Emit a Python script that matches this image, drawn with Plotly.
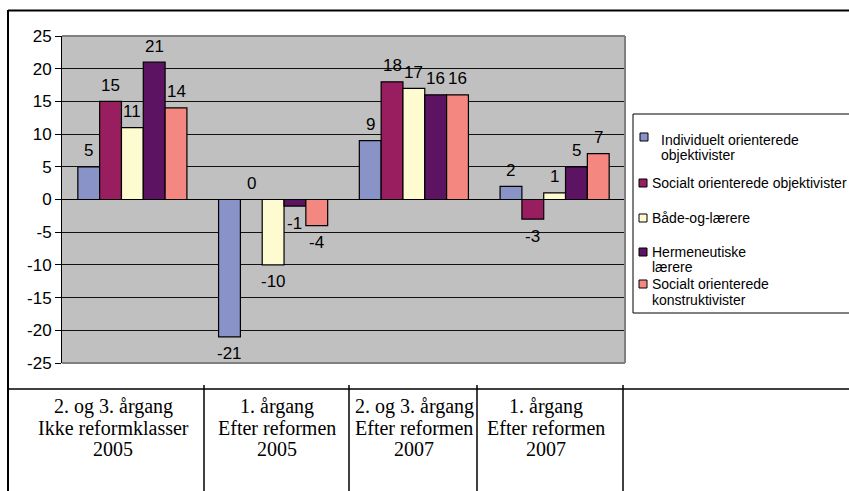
import plotly.graph_objects as go

# Survey groups (columns of the table under the chart)
categories = [
    "2. og 3. årgang<br>Ikke reformklasser<br>2005",
    "1. årgang<br>Efter reformen<br>2005",
    "2. og 3. årgang<br>Efter reformen<br>2007",
    "1. årgang<br>Efter reformen<br>2007",
]

# Teacher types
series_names = [
    "Individuelt orienterede objektivister",
    "Socialt orienterede objektivister",
    "Både-og-lærere",
    "Hermeneutiske lærere",
    "Socialt orienterede konstruktivister",
]
legend_lines = [
    ["Individuelt orienterede", "objektivister"],
    ["Socialt orienterede objektivister"],
    ["Både-og-lærere"],
    ["Hermeneutiske", "lærere"],
    ["Socialt orienterede", "konstruktivister"],
]

individuelt_obj = [5, -21, 9, 2]
socialt_obj = [15, 0, 18, -3]
baade_og = [11, -10, 17, 1]
hermeneutiske = [21, -1, 16, 5]
socialt_konstr = [14, -4, 16, 7]
series_values = [individuelt_obj, socialt_obj, baade_og, hermeneutiske, socialt_konstr]

colors = ["#8993C7", "#991E5F", "#FFFBD0", "#5C1462", "#F4877F"]

tick_vals = [-25, -20, -15, -10, -5, 0, 5, 10, 15, 20, 25]
tick_text = [str(v) for v in tick_vals]  # plain hyphen for negatives

W, H = 849, 491
L, R, T, B = 62, 625, 36, 363  # plot area in pixels
BARGAP = 0.225


def px(x):
    return (x - L) / (R - L)


def py(y):
    return (B - y) / (B - T)


fig = go.Figure()
for name, vals, col in zip(series_names, series_values, colors):
    fig.add_trace(go.Bar(
        x=categories, y=vals, name=name,
        marker=dict(color=col, line=dict(color="black", width=1.2)),
        showlegend=False,
    ))

annotations = []
shapes = []

# value labels above/below each bar
n = len(series_values)
bw = (1 - BARGAP) / n
for j, vals in enumerate(series_values):
    for i, v in enumerate(vals):
        annotations.append(dict(
            x=i + (j - (n - 1) / 2) * bw, y=v, xref="x", yref="y",
            text=str(v), showarrow=False,
            yshift=16 if v >= 0 else -17,
            font=dict(family="Liberation Sans, Arial", size=17, color="black"),
        ))

# plot-area border (top, right, bottom) in gray
for (x0, y0, x1, y1) in [(L, T, R, T), (R, T, R, B), (L, B, R, B)]:
    shapes.append(dict(type="line", xref="paper", yref="paper",
                       x0=px(x0), y0=py(y0), x1=px(x1), y1=py(y1),
                       line=dict(color="#808080", width=2)))

# chart frame
shapes.append(dict(type="line", xref="paper", yref="paper",
                   x0=px(8), y0=py(10.5), x1=px(850), y1=py(10.5),
                   line=dict(color="black", width=2)))
shapes.append(dict(type="line", xref="paper", yref="paper",
                   x0=px(8), y0=py(10), x1=px(8), y1=py(492),
                   line=dict(color="black", width=2)))

# table under the chart
shapes.append(dict(type="line", xref="paper", yref="paper",
                   x0=px(8), y0=py(389), x1=px(850), y1=py(389),
                   line=dict(color="black", width=1.5)))
for xc in [204, 349, 477, 623]:
    shapes.append(dict(type="line", xref="paper", yref="paper",
                       x0=px(xc), y0=py(385), x1=px(xc), y1=py(492),
                       line=dict(color="black", width=1.5)))

col_centers = [113, 277, 414, 546]
line_ys = [406, 427.5, 449]
for cat, xc in zip(categories, col_centers):
    for line, yc in zip(cat.split("<br>"), line_ys):
        annotations.append(dict(
            x=px(xc), y=py(yc), xref="paper", yref="paper",
            text=line, showarrow=False, xanchor="center", yanchor="middle",
            font=dict(family="Liberation Serif, Times New Roman", size=20, color="black"),
        ))

# legend box
shapes.append(dict(type="rect", xref="paper", yref="paper",
                   x0=px(633), y0=py(114), x1=px(851), y1=py(313),
                   line=dict(color="black", width=1), fillcolor="white"))
legend_sym_x = [640, 639, 639, 639, 639]
legend_text_x = [659, 650, 650, 650, 650]
legend_row_y = [[139.5, 154.5], [183], [218], [252, 267], [284, 300]]
legend_sym_y = [137, 183, 218, 252, 284]
for k in range(n):
    sx, sy = legend_sym_x[k], legend_sym_y[k]
    shapes.append(dict(type="rect", xref="paper", yref="paper",
                       x0=px(sx), y0=py(sy - 4), x1=px(sx + 8), y1=py(sy + 4),
                       line=dict(color="black", width=1), fillcolor=colors[k]))
    for text, yc in zip(legend_lines[k], legend_row_y[k]):
        annotations.append(dict(
            x=px(legend_text_x[k]), y=py(yc), xref="paper", yref="paper",
            text=text, showarrow=False, xanchor="left", yanchor="middle",
            font=dict(family="Liberation Sans, Arial", size=14, color="black"),
        ))

fig.update_layout(
    width=W, height=H,
    margin=dict(l=L, r=W - R, t=T, b=H - B, pad=0),
    paper_bgcolor="white", plot_bgcolor="#C0C0C0",
    barmode="group", bargap=BARGAP, bargroupgap=0,
    annotations=annotations, shapes=shapes,
    font=dict(family="Liberation Sans, Arial", size=16, color="black"),
)
fig.update_xaxes(showticklabels=False, ticks="", showgrid=False,
                 showline=False, zeroline=False)
fig.update_yaxes(range=[-25, 25], tickvals=tick_vals, ticktext=tick_text,
                 ticks="outside", ticklen=6, tickcolor="black", tickwidth=1,
                 showline=True, linecolor="black", linewidth=1,
                 showgrid=True, gridcolor="#111111", gridwidth=1,
                 zeroline=True, zerolinecolor="black", zerolinewidth=1,
                 tickfont=dict(family="Liberation Sans, Arial", size=17, color="black"))

fig.write_html("out.html")
